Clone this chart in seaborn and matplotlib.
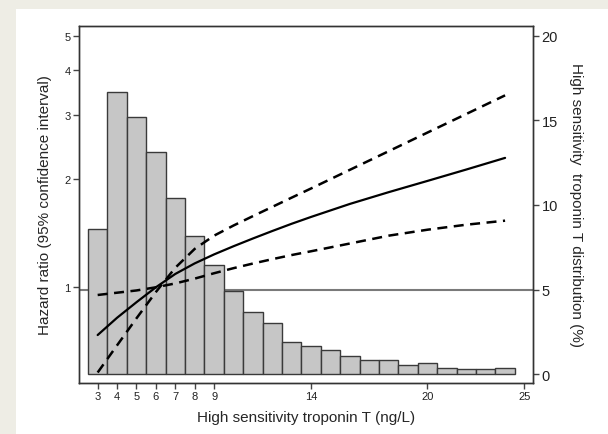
import numpy as np
import pandas as pd
import matplotlib.pyplot as plt
import matplotlib.ticker as mticker
import seaborn as sns

sns.set_style('ticks')
plt.rcParams['font.family'] = ['Liberation Sans', 'DejaVu Sans']

# distribution of hs-TnT (%), one bar per ng/L
troponin_bins = [3, 4, 5, 6, 7, 8, 9, 10, 11, 12, 13, 14, 15, 16, 17, 18, 19, 20, 21, 22, 23, 24]
dist_pct = [8.6, 16.7, 15.2, 13.15, 10.4, 8.15, 6.45, 4.9, 3.65, 3.0, 1.9, 1.65,
            1.45, 1.1, 0.85, 0.85, 0.55, 0.65, 0.35, 0.28, 0.28, 0.35]

# hazard ratio curve with 95% CI
curve_x = [3, 4, 5, 6, 7, 8, 9, 10, 11, 12, 13, 14, 16, 18, 20, 22, 24]
hr = [0.737, 0.823, 0.909, 1.0, 1.089, 1.165, 1.234, 1.300, 1.366, 1.433, 1.501,
      1.568, 1.704, 1.837, 1.974, 2.123, 2.287]
hr_upper = [0.58, 0.69, 0.82, 0.97, 1.133, 1.278, 1.391, 1.484, 1.576, 1.672, 1.774,
            1.881, 2.119, 2.387, 2.689, 3.028, 3.411]
hr_lower = [0.952, 0.966, 0.980, 1.0, 1.025, 1.057, 1.094, 1.130, 1.164, 1.197, 1.229,
            1.259, 1.323, 1.391, 1.445, 1.492, 1.531]

x_ticks = [3, 4, 5, 6, 7, 8, 9, 14, 20, 25]
hr_ticks = [1, 2, 3, 4, 5]
pct_ticks = [0, 5, 10, 15, 20]

fig = plt.figure(figsize=(6.08, 4.35), dpi=100, facecolor='#eeede5')
fig.add_artist(plt.Rectangle((16 / 608, 0), 1, 1 - 10 / 435, transform=fig.transFigure,
                             facecolor='white', edgecolor='none', zorder=-1))
ax_pct = fig.add_axes([0.130, 0.117, 0.747, 0.822])
ax_hr = ax_pct.twinx()

# reference line HR = 1 (sits at 5% on the distribution axis), behind bars
ax_pct.axhline(5, color='#7a7a7a', lw=1.5, zorder=0)
sns.histplot(x=troponin_bins, weights=dist_pct, discrete=True, ax=ax_pct,
             color='#c6c6c6', edgecolor='#3a3a3a', linewidth=1, alpha=1, zorder=2)

sns.lineplot(x=curve_x, y=hr, ax=ax_hr, color='black', lw=1.6)
sns.lineplot(x=curve_x, y=hr_upper, ax=ax_hr, color='black', lw=1.8, linestyle=(0, (4, 2.6)))
sns.lineplot(x=curve_x, y=hr_lower, ax=ax_hr, color='black', lw=1.8, linestyle=(0, (4, 2.6)))

ax_pct.set_xlim(2.04, 25.45)
ax_pct.set_ylim(-0.53, 20.6)
ax_hr.set_yscale('log')
ax_hr.set_ylim(0.542, 5.33)

ax_pct.yaxis.tick_right()
ax_pct.yaxis.set_label_position('right')
ax_hr.yaxis.tick_left()
ax_hr.yaxis.set_label_position('left')

ax_pct.set_xticks(x_ticks)
ax_pct.set_xticklabels([str(t) for t in x_ticks], fontsize=8)
ax_pct.set_yticks(pct_ticks)
ax_pct.set_yticklabels([str(t) for t in pct_ticks], fontsize=10.5)
ax_hr.yaxis.set_major_locator(mticker.FixedLocator(hr_ticks))
ax_hr.yaxis.set_major_formatter(mticker.FixedFormatter([str(t) for t in hr_ticks]))
ax_hr.yaxis.set_minor_locator(mticker.NullLocator())
ax_hr.tick_params(axis='y', labelsize=8)

for a in (ax_pct, ax_hr):
    a.tick_params(direction='out', length=4, width=1, color='#444444', labelcolor='#222222', pad=2)
    for s in a.spines.values():
        s.set_color('#333333')
        s.set_linewidth(1)

ax_pct.set_xlabel('High sensitivity troponin T (ng/L)', fontsize=11, labelpad=6)
ax_pct.set_ylabel('High sensitivity  troponin T distribution (%)', fontsize=11,
                  rotation=270, labelpad=18)
ax_hr.set_ylabel('Hazard ratio (95% confidence interval)', fontsize=11, labelpad=9)

fig.savefig('out.png', dpi=100, facecolor=fig.get_facecolor())
